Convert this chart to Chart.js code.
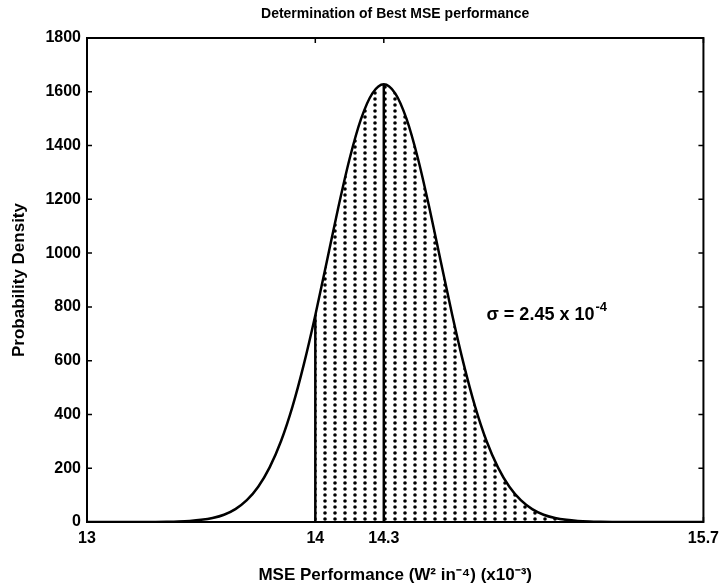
<!DOCTYPE html>
<html><head><meta charset="utf-8">
<script src="https://cdn.jsdelivr.net/npm/chart.js@4"></script>
<style>html,body{margin:0;padding:0;background:#fff}</style>
</head><body>
<canvas id="c" width="726" height="584"></canvas>
<script>
// ---- data ----
const xValues = [13.00,13.05,13.10,13.15,13.20,13.25,13.30,13.35,13.40,13.45,13.50,13.55,13.60,13.65,13.70,13.75,13.80,13.85,13.90,13.95,
  14.00,14.05,14.10,14.15,14.20,14.25,14.30,14.35,14.40,14.45,14.50,14.55,14.60,14.65,14.70,14.75,14.80,14.85,14.90,14.95,
  15.00,15.05,15.10,15.15,15.20,15.25,15.30,15.35,15.40,15.45,15.50,15.55,15.60,15.65,15.70];
const densityValues = [0,0,0,0,0,0.2,0.4,0.9,1.9,4,8,15,27,48,81,131,203,301,429,587,
  769,967,1167,1350,1498,1594,1628,1594,1498,1350,1167,967,769,587,429,301,203,131,81,48,
  27,15,8,4,1.9,0.9,0.4,0.2,0,0,0,0,0,0,0];
const xTickValues = [13, 14, 14.3, 15.7];
const yTickValues = [0,200,400,600,800,1000,1200,1400,1600,1800];
const shadeStart = 14.0;
const meanValue = 14.3;
const sigmaLabelBase = 'σ = 2.45 x 10';
const sigmaLabelExp = '-4';
const sigmaLabelAt = [14.75, 770];
const titleText = 'Determination of Best MSE performance';
const xTitleText = 'MSE Performance (W² in⁻⁴) (x10⁻³)';
const yTitleText = 'Probability Density';

// ---- derived ----
const curvePts = xValues.map((x,i)=>({x, y: densityValues[i]}));
const densityAt = v => densityValues[xValues.findIndex(x => Math.abs(x - v) < 1e-9)];
const shadePts = curvePts.filter(p => p.x >= shadeStart - 1e-9);
const startLine = [{x: shadeStart, y: 0}, {x: shadeStart, y: densityAt(shadeStart)}];
const meanLine = [{x: meanValue, y: 0}, {x: meanValue, y: densityAt(meanValue)}];

const FONT = '"Liberation Sans", Arial, Helvetica, sans-serif';
const canvas = document.getElementById('c');
const ctx = canvas.getContext('2d');
const pc = document.createElement('canvas'); pc.width = 10; pc.height = 6;
const pctx = pc.getContext('2d');
pctx.fillStyle = '#000'; pctx.beginPath(); pctx.arc(5, 3, 1.8, 0, Math.PI*2); pctx.fill();
const dotPattern = ctx.createPattern(pc, 'repeat');

const frame = {
  id: 'frame',
  afterDatasetsDraw(chart) {
    const {ctx, chartArea: a, scales: {x, y}} = chart;
    ctx.save();
    ctx.strokeStyle = '#000'; ctx.lineWidth = 2;
    ctx.strokeRect(a.left, a.top, a.right - a.left, a.bottom - a.top);
    ctx.lineWidth = 1.5;
    const tl = 5;
    ctx.beginPath();
    xTickValues.forEach(v => {
      const px = x.getPixelForValue(v);
      ctx.moveTo(px, a.bottom); ctx.lineTo(px, a.bottom - tl);
      ctx.moveTo(px, a.top); ctx.lineTo(px, a.top + tl);
    });
    yTickValues.forEach(v => {
      const py = y.getPixelForValue(v);
      ctx.moveTo(a.left, py); ctx.lineTo(a.left + tl, py);
      ctx.moveTo(a.right, py); ctx.lineTo(a.right - tl, py);
    });
    ctx.stroke();
    ctx.fillStyle = '#000';
    // title, centred over the plot area
    ctx.textAlign = 'center'; ctx.textBaseline = 'middle';
    ctx.font = 'bold 14px ' + FONT;
    ctx.fillText(titleText, (a.left + a.right) / 2, 14);
    // sigma annotation
    const tx = x.getPixelForValue(sigmaLabelAt[0]);
    const ty = y.getPixelForValue(sigmaLabelAt[1]);
    ctx.textBaseline = 'middle'; ctx.textAlign = 'left';
    ctx.font = 'bold 18px ' + FONT;
    ctx.fillText(sigmaLabelBase, tx, ty);
    const w = ctx.measureText(sigmaLabelBase).width;
    ctx.font = 'bold 13px ' + FONT;
    ctx.fillText(sigmaLabelExp, tx + w + 1, ty - 8);
    ctx.restore();
  }
};

new Chart(ctx, {
  type: 'line',
  data: {
    datasets: [
      { data: shadePts, fill: 'origin', backgroundColor: dotPattern, borderWidth: 0, pointRadius: 0,
        cubicInterpolationMode: 'monotone', order: 3 },
      { data: startLine, borderColor: '#000', borderWidth: 2.5, pointRadius: 0, fill: false, order: 2 },
      { data: meanLine, borderColor: '#000', borderWidth: 2.5, pointRadius: 0, fill: false, order: 2 },
      { data: curvePts, borderColor: '#000', borderWidth: 2.5, pointRadius: 0, fill: false,
        cubicInterpolationMode: 'monotone', order: 1 }
    ]
  },
  options: {
    responsive: false, animation: false, devicePixelRatio: 1,
    layout: { padding: { left: 0, right: 22, top: 38, bottom: 0 } },
    plugins: {
      legend: { display: false }, tooltip: { enabled: false }, title: { display: false }
    },
    scales: {
      x: {
        type: 'linear', min: 13, max: 15.7,
        afterBuildTicks: s => { s.ticks = xTickValues.map(v => ({ value: v })); },
        afterFit: s => { s.height = 62; },
        grid: { display: false, drawTicks: false }, border: { display: false },
        ticks: { color: '#000', padding: 7, maxRotation: 0, autoSkip: false,
          font: { family: FONT, size: 16, weight: 'bold' }, callback: v => String(v) },
        title: { display: true, text: xTitleText, color: '#000', padding: { top: 0, bottom: 0 },
          font: { family: FONT, size: 17, weight: 'bold', lineHeight: 1 } }
      },
      y: {
        min: 0, max: 1800,
        afterBuildTicks: s => { s.ticks = yTickValues.map(v => ({ value: v })); },
        afterFit: s => { s.width = 87; },
        grid: { display: false, drawTicks: false }, border: { display: false },
        ticks: { color: '#000', padding: 6, font: { family: FONT, size: 16, weight: 'bold' },
          callback: v => String(v) },
        title: { display: true, text: yTitleText, color: '#000', padding: { top: 11, bottom: 0 },
          font: { family: FONT, size: 17, weight: 'bold', lineHeight: 1 } }
      }
    }
  },
  plugins: [frame]
});
</script>
</body></html>
